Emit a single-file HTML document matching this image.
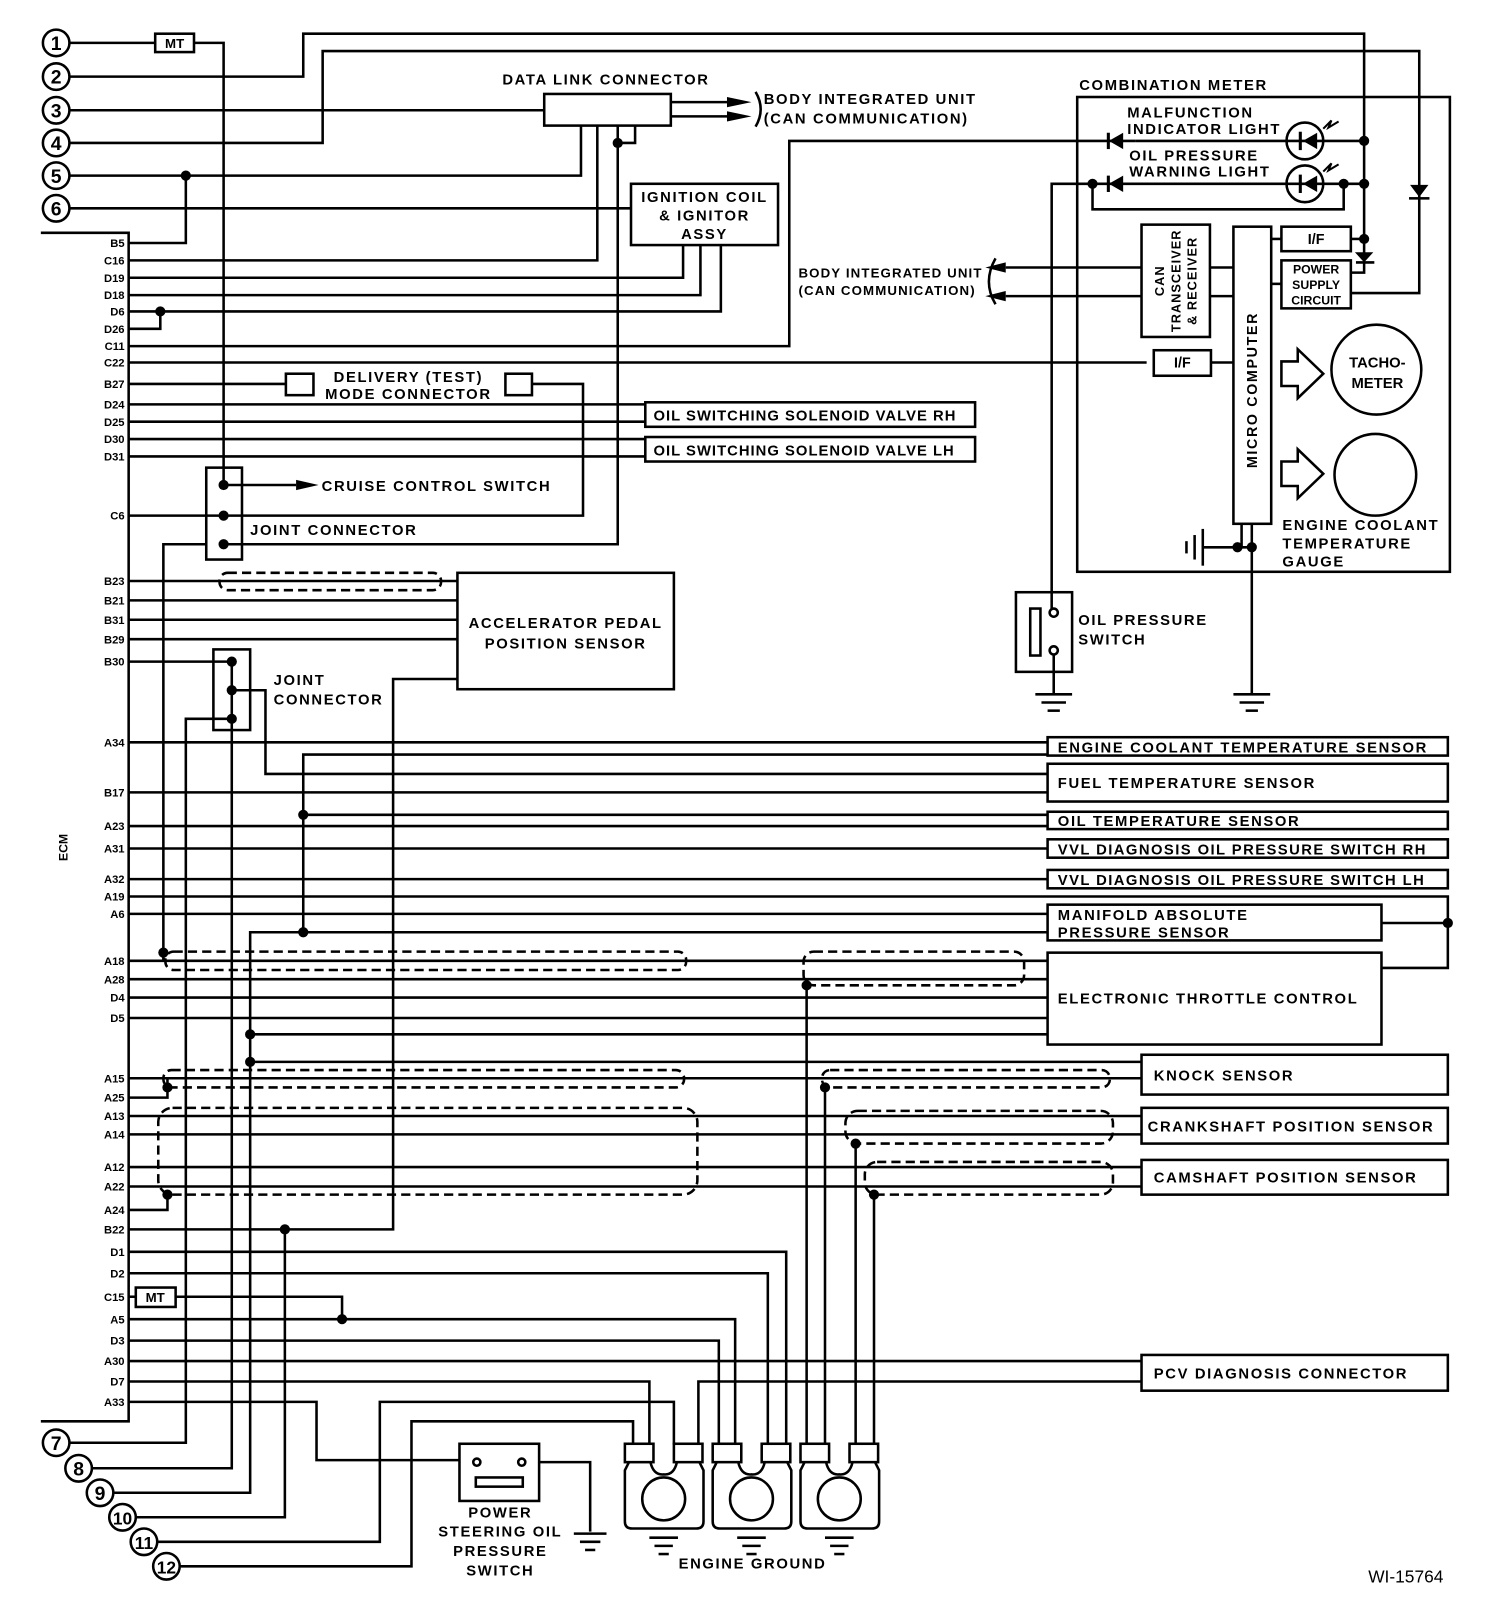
<!DOCTYPE html>
<html><head><meta charset="utf-8"><style>
html,body{margin:0;padding:0;background:#fff;}
svg{display:block;}
text{font-family:"Liberation Sans",Arial,sans-serif;font-weight:bold;fill:#000;}
.p{font-size:11px;}
.l{font-size:15px;letter-spacing:1.6px;}
</style></head><body>
<svg width="1504" height="1600" viewBox="0 0 1473 1567" xmlns="http://www.w3.org/2000/svg">
<g fill="none" stroke="#000" stroke-width="2.5">
<polyline points="40,228 126,228 126,1392 40,1392"/>
<circle cx="55" cy="42" r="13"/><circle cx="55" cy="75" r="13"/><circle cx="55" cy="108" r="13"/><circle cx="55" cy="140" r="13"/><circle cx="55" cy="172" r="13"/><circle cx="55" cy="204" r="13"/>
<circle cx="55" cy="1413" r="13"/><circle cx="77" cy="1438" r="13"/><circle cx="98" cy="1462" r="13"/><circle cx="120" cy="1486" r="13"/><circle cx="141" cy="1510" r="13"/><circle cx="163" cy="1534" r="13"/>
<line x1="68" y1="42" x2="152" y2="42"/><rect x="152" y="33" width="38" height="18"/>
<polyline points="190,42 219,42 219,475"/>
<polyline points="68,75 297,75 297,33 1336,33 1336,250"/>
<line x1="68" y1="108" x2="533" y2="108"/>
<polyline points="68,140 316,140 316,50 1390,50 1390,287 1324,287"/>
<polyline points="68,172 569,172 569,123"/>
<polyline points="182,172 182,238 126,238"/>
<line x1="68" y1="204" x2="618" y2="204"/>
<rect x="533" y="92" width="124" height="31"/>
<line x1="657" y1="100" x2="715" y2="100"/><line x1="657" y1="114" x2="715" y2="114"/>
<path d="M740,90 Q750,107 740,124"/>
<polyline points="605,123 605,533 219,533"/>
<polyline points="605,140 622,140 622,123"/>
<rect x="618" y="180" width="144" height="60"/>
<polyline points="126,255 585,255 585,123"/>
<polyline points="126,272 669,272 669,240"/>
<polyline points="126,289 686,289 686,240"/>
<polyline points="126,305 706,305 706,240"/>
<polyline points="157,305 157,322 126,322"/>
<polyline points="126,339 773,339 773,138 1112,138"/>
<line x1="126" y1="355" x2="1123" y2="355"/>
<line x1="126" y1="376" x2="280" y2="376"/>
<rect x="280" y="366" width="27" height="21"/><rect x="495" y="366" width="26" height="21"/>
<polyline points="521,376 571,376 571,505 126,505"/>
<line x1="126" y1="396" x2="632" y2="396"/><line x1="126" y1="413" x2="632" y2="413"/>
<line x1="126" y1="430" x2="632" y2="430"/><line x1="126" y1="447" x2="632" y2="447"/>
<rect x="632" y="394" width="323" height="24"/><rect x="632" y="428" width="323" height="24"/>
<rect x="202" y="458" width="35" height="90"/>
<line x1="219" y1="475" x2="290" y2="475"/>
<rect x="448" y="561" width="212" height="114"/>
<line x1="126" y1="569" x2="448" y2="569"/><line x1="126" y1="588" x2="448" y2="588"/>
<line x1="126" y1="607" x2="448" y2="607"/><line x1="126" y1="626" x2="448" y2="626"/>
<line x1="126" y1="648" x2="227" y2="648"/>
<rect x="215" y="561" width="217" height="17" rx="8" stroke-dasharray="9,5"/>
<polyline points="160,941 160,533 202,533"/>
<rect x="209" y="636" width="36" height="79"/>
<polyline points="227,648 227,1438 90,1438"/>
<polyline points="227,676 260,676 260,758 1026,758"/>
<polyline points="227,704 182,704 182,1413 68,1413"/>
<rect x="1026" y="722" width="392" height="18"/>
<rect x="1026" y="748" width="392" height="37"/>
<rect x="1026" y="795" width="392" height="17"/>
<rect x="1026" y="822" width="392" height="18"/>
<rect x="1026" y="852" width="392" height="18"/>
<rect x="1026" y="886" width="327" height="35"/>
<rect x="1026" y="933" width="327" height="90"/>
<rect x="1118" y="1033" width="300" height="39"/>
<rect x="1118" y="1085" width="300" height="35"/>
<rect x="1118" y="1136" width="300" height="34"/>
<rect x="1118" y="1327" width="300" height="35"/>
<line x1="126" y1="727" x2="1026" y2="727"/>
<polyline points="1026,739 297,739 297,913"/>
<line x1="126" y1="776" x2="1026" y2="776"/>
<line x1="126" y1="809" x2="1026" y2="809"/>
<line x1="297" y1="798" x2="1026" y2="798"/>
<line x1="126" y1="831" x2="1026" y2="831"/>
<line x1="126" y1="861" x2="1026" y2="861"/>
<polyline points="126,878 1418,878 1418,948 1353,948"/>
<line x1="1353" y1="904" x2="1418" y2="904"/>
<line x1="126" y1="895" x2="1026" y2="895"/>
<polyline points="1026,913 245,913 245,1462 111,1462"/>
<line x1="126" y1="941" x2="1026" y2="941"/>
<line x1="126" y1="959" x2="1026" y2="959"/>
<line x1="126" y1="977" x2="1026" y2="977"/>
<line x1="126" y1="997" x2="1026" y2="997"/>
<line x1="245" y1="1013" x2="1026" y2="1013"/>
<line x1="245" y1="1040" x2="1118" y2="1040"/>
<rect x="162" y="932" width="510" height="18" rx="8" stroke-dasharray="9,5"/>
<rect x="787" y="932" width="216" height="33" rx="10" stroke-dasharray="9,5"/>
<line x1="126" y1="1056" x2="1118" y2="1056"/>
<polyline points="126,1075 164,1075 164,1056"/>
<rect x="160" y="1048" width="510" height="17" rx="8" stroke-dasharray="9,5"/>
<rect x="805" y="1048" width="282" height="17" rx="8" stroke-dasharray="9,5"/>
<line x1="126" y1="1093" x2="1118" y2="1093"/>
<line x1="126" y1="1111" x2="1118" y2="1111"/>
<line x1="126" y1="1143" x2="1118" y2="1143"/>
<line x1="126" y1="1162" x2="1118" y2="1162"/>
<rect x="155" y="1085" width="528" height="85" rx="14" stroke-dasharray="9,5"/>
<rect x="828" y="1088" width="262" height="32" rx="12" stroke-dasharray="9,5"/>
<rect x="847" y="1138" width="243" height="32" rx="12" stroke-dasharray="9,5"/>
<polyline points="126,1185 164,1185 164,1170"/>
<polyline points="126,1204 385,1204 385,665 448,665"/>
<polyline points="279,1204 279,1486 133,1486"/>
<polyline points="126,1226 770,1226 770,1415"/>
<polyline points="126,1247 752,1247 752,1415"/>
<line x1="126" y1="1270" x2="133" y2="1270"/><rect x="133" y="1261" width="39" height="19"/>
<polyline points="172,1270 335,1270 335,1292"/>
<polyline points="126,1292 720,1292 720,1415"/>
<polyline points="126,1313 704,1313 704,1415"/>
<line x1="126" y1="1333" x2="1118" y2="1333"/>
<polyline points="126,1353 636,1353 636,1415"/>
<polyline points="684,1415 684,1353 1118,1353"/>
<polyline points="126,1373 310,1373 310,1430 450,1430"/>
<polyline points="154,1510 372,1510 372,1373 660,1373 660,1415"/>
<polyline points="176,1534 403,1534 403,1392 620,1392 620,1415"/>
<line x1="790" y1="965" x2="790" y2="1415"/>
<line x1="808" y1="1065" x2="808" y2="1415"/>
<line x1="838" y1="1120" x2="838" y2="1415"/>
<line x1="856" y1="1170" x2="856" y2="1415"/>
<rect x="450" y="1414" width="78" height="56"/>
<circle cx="467" cy="1432" r="3.5"/><circle cx="511" cy="1432" r="3.5"/>
<rect x="466" y="1447" width="46" height="9"/>
<polyline points="528,1432 578,1432 578,1500"/>
<line x1="562" y1="1502" x2="594" y2="1502"/><line x1="568" y1="1510" x2="588" y2="1510"/><line x1="573" y1="1518" x2="583" y2="1518"/>
<g id="eg">
<rect x="612" y="1414" width="28" height="18"/><rect x="660" y="1414" width="28" height="18"/>
<path d="M616,1432 L612,1440 L612,1490 Q612,1497 619,1497 L682,1497 Q689,1497 689,1490 L689,1440 L685,1432 M637,1432 Q640,1445 650,1444 Q660,1445 663,1432"/>
<circle cx="650" cy="1468" r="21"/>
<line x1="636" y1="1506" x2="664" y2="1506"/><line x1="641" y1="1514" x2="659" y2="1514"/><line x1="645" y1="1522" x2="655" y2="1522"/>
</g>
<use href="#eg" x="86"/><use href="#eg" x="172"/>
<rect x="1055" y="95" width="365" height="465"/>
<line x1="1112" y1="138" x2="1336" y2="138"/>
<polyline points="1030,597 1030,180 1336,180"/>
<polyline points="1070,180 1070,205 1316,205 1316,180"/>
<circle cx="1278" cy="138" r="18"/><circle cx="1278" cy="180" r="18"/>
<path d="M1296,126 l8,-8 l-3,7 l10,-6 M1296,168 l8,-8 l-3,7 l10,-6" stroke-width="2"/>
<rect x="1118" y="220" width="67" height="110"/>
<rect x="1208" y="222" width="37" height="291"/>
<rect x="1255" y="222" width="68" height="24"/>
<rect x="1255" y="255" width="68" height="47"/>
<line x1="1245" y1="234" x2="1255" y2="234"/><line x1="1245" y1="278" x2="1255" y2="278"/>
<line x1="1323" y1="234" x2="1336" y2="234"/>
<polyline points="1323,267 1336,267 1336,257"/>
<line x1="1328" y1="257" x2="1346" y2="257"/>
<line x1="985" y1="262" x2="1118" y2="262"/><line x1="985" y1="290" x2="1118" y2="290"/>
<path d="M975,253 Q962,276 975,298"/>
<line x1="1185" y1="262" x2="1208" y2="262"/><line x1="1185" y1="290" x2="1208" y2="290"/>
<rect x="1130" y="343" width="56" height="25"/>
<line x1="1186" y1="355" x2="1208" y2="355"/>
<path d="M1255,354 h16 v-12 l25,24 l-25,24 v-12 h-16 z"/>
<path d="M1255,452 h16 v-12 l25,24 l-25,24 v-12 h-16 z"/>
<circle cx="1348" cy="362" r="44"/>
<circle cx="1347" cy="465" r="40"/>
<line x1="1216" y1="513" x2="1216" y2="536"/>
<polyline points="1178,536 1226,536"/>
<polyline points="1226,513 1226,680"/>
<line x1="1178" y1="518" x2="1178" y2="554"/><line x1="1170" y1="524" x2="1170" y2="548"/><line x1="1162" y1="530" x2="1162" y2="542"/>
<line x1="1208" y1="680" x2="1244" y2="680"/><line x1="1214" y1="688" x2="1238" y2="688"/><line x1="1220" y1="696" x2="1232" y2="696"/>
<rect x="995" y="580" width="55" height="78"/>
<rect x="1009" y="596" width="10" height="46"/>
<circle cx="1032" cy="600" r="4"/><circle cx="1032" cy="637" r="4"/>
<line x1="1032" y1="641" x2="1032" y2="680"/>
<line x1="1014" y1="680" x2="1050" y2="680"/><line x1="1020" y1="688" x2="1044" y2="688"/><line x1="1026" y1="696" x2="1038" y2="696"/>
</g>
<g fill="#000" stroke="none">
<circle cx="182" cy="172" r="5"/><circle cx="605" cy="140" r="5"/><circle cx="157" cy="305" r="5"/>
<circle cx="219" cy="475" r="5"/><circle cx="219" cy="505" r="5"/><circle cx="219" cy="533" r="5"/>
<circle cx="227" cy="648" r="5"/><circle cx="227" cy="676" r="5"/><circle cx="227" cy="704" r="5"/>
<circle cx="297" cy="798" r="5"/><circle cx="297" cy="913" r="5"/><circle cx="160" cy="933" r="5"/>
<circle cx="1418" cy="904" r="5"/><circle cx="790" cy="965" r="5"/>
<circle cx="245" cy="1013" r="5"/><circle cx="245" cy="1040" r="5"/>
<circle cx="164" cy="1065" r="5"/><circle cx="808" cy="1065" r="5"/>
<circle cx="838" cy="1120" r="5"/><circle cx="164" cy="1170" r="5"/><circle cx="856" cy="1170" r="5"/>
<circle cx="279" cy="1204" r="5"/><circle cx="335" cy="1292" r="5"/>
<circle cx="1336" cy="138" r="5"/><circle cx="1336" cy="180" r="5"/><circle cx="1316" cy="180" r="5"/><circle cx="1070" cy="180" r="5"/>
<circle cx="1336" cy="234" r="5"/><circle cx="1212" cy="536" r="5"/><circle cx="1226" cy="536" r="5"/>
<path d="M712,95 l24,5 l-24,5 z M712,109 l24,5 l-24,5 z"/>
<path d="M290,470 l22,5 l-22,5 z"/>
<path d="M985,257 l-20,5 l20,5 z M985,285 l-20,5 l20,5 z"/>
<path d="M1100,130 l-14,8 l14,8 z M1100,172 l-14,8 l14,8 z M1290,130 l-14,8 l14,8 z M1290,172 l-14,8 l14,8 z"/>
<rect x="1084" y="130" width="3" height="16"/><rect x="1084" y="172" width="3" height="16"/>
<rect x="1272" y="129" width="3" height="18"/><rect x="1272" y="171" width="3" height="18"/>
<path d="M1381,181 l18,0 l-9,12 z"/><rect x="1380" y="193" width="20" height="2.5"/>
<path d="M1327,247 l18,0 l-9,10 z"/>
</g>
<g class="l" text-anchor="middle" style="letter-spacing:0">
<text x="55" y="49" style="font-size:19px">1</text><text x="55" y="82" style="font-size:19px">2</text><text x="55" y="115" style="font-size:19px">3</text><text x="55" y="147" style="font-size:19px">4</text><text x="55" y="179" style="font-size:19px">5</text><text x="55" y="211" style="font-size:19px">6</text>
<text x="55" y="1420" style="font-size:19px">7</text><text x="77" y="1445" style="font-size:19px">8</text><text x="98" y="1469" style="font-size:19px">9</text><text x="120" y="1493" style="font-size:17px">10</text><text x="141" y="1517" style="font-size:17px">11</text><text x="163" y="1541" style="font-size:17px">12</text>
</g>
<g class="p" text-anchor="end">
<text x="122" y="242">B5</text><text x="122" y="259">C16</text><text x="122" y="276">D19</text><text x="122" y="293">D18</text><text x="122" y="309">D6</text><text x="122" y="326">D26</text><text x="122" y="343">C11</text><text x="122" y="359">C22</text><text x="122" y="380">B27</text><text x="122" y="400">D24</text><text x="122" y="417">D25</text><text x="122" y="434">D30</text><text x="122" y="451">D31</text><text x="122" y="509">C6</text><text x="122" y="573">B23</text><text x="122" y="592">B21</text><text x="122" y="611">B31</text><text x="122" y="630">B29</text><text x="122" y="652">B30</text><text x="122" y="731">A34</text><text x="122" y="780">B17</text><text x="122" y="813">A23</text><text x="122" y="835">A31</text><text x="122" y="865">A32</text><text x="122" y="882">A19</text><text x="122" y="899">A6</text><text x="122" y="945">A18</text><text x="122" y="963">A28</text><text x="122" y="981">D4</text><text x="122" y="1001">D5</text><text x="122" y="1060">A15</text><text x="122" y="1079">A25</text><text x="122" y="1097">A13</text><text x="122" y="1115">A14</text><text x="122" y="1147">A12</text><text x="122" y="1166">A22</text><text x="122" y="1189">A24</text><text x="122" y="1208">B22</text><text x="122" y="1230">D1</text><text x="122" y="1251">D2</text><text x="122" y="1274">C15</text><text x="122" y="1296">A5</text><text x="122" y="1317">D3</text><text x="122" y="1337">A30</text><text x="122" y="1357">D7</text><text x="122" y="1377">A33</text>
</g>
<text class="p" transform="translate(66,830) rotate(-90)" text-anchor="middle" style="font-size:12px">ECM</text>
<g class="p" text-anchor="middle" style="font-size:13px">
<text x="171" y="47">MT</text><text x="152" y="1275">MT</text>
<text x="1158" y="360" style="font-size:14px">I/F</text><text x="1289" y="239" style="font-size:14px">I/F</text>
</g>
<g class="l" style="font-size:14.5px">
<text x="492" y="83">DATA LINK CONNECTOR</text>
<text x="748" y="102">BODY INTEGRATED UNIT</text><text x="748" y="121">(CAN COMMUNICATION)</text>
<text x="690" y="198" text-anchor="middle">IGNITION COIL</text><text x="690" y="216" text-anchor="middle">&amp; IGNITOR</text><text x="690" y="234" text-anchor="middle">ASSY</text>
<text x="1057" y="88">COMBINATION METER</text>
<text x="1104" y="115">MALFUNCTION</text><text x="1104" y="131">INDICATOR LIGHT</text>
<text x="1106" y="157">OIL PRESSURE</text><text x="1106" y="173">WARNING LIGHT</text>
<text x="400" y="374" text-anchor="middle">DELIVERY (TEST)</text><text x="400" y="391" text-anchor="middle">MODE CONNECTOR</text>
<text x="640" y="412" style="letter-spacing:1px">OIL SWITCHING SOLENOID VALVE RH</text>
<text x="640" y="446" style="letter-spacing:1px">OIL SWITCHING SOLENOID VALVE LH</text>
<text x="315" y="481">CRUISE CONTROL SWITCH</text>
<text x="245" y="524">JOINT CONNECTOR</text>
<text x="554" y="615" text-anchor="middle">ACCELERATOR PEDAL</text><text x="554" y="635" text-anchor="middle">POSITION SENSOR</text>
<text x="268" y="671">JOINT</text><text x="268" y="690">CONNECTOR</text>
<text x="1056" y="612">OIL PRESSURE</text><text x="1056" y="631">SWITCH</text>
<text x="1256" y="519">ENGINE COOLANT</text><text x="1256" y="537">TEMPERATURE</text><text x="1256" y="555">GAUGE</text>
<text x="1349" y="360" text-anchor="middle" style="letter-spacing:0">TACHO-</text><text x="1349" y="380" text-anchor="middle" style="letter-spacing:0">METER</text>
<text x="1036" y="737">ENGINE COOLANT TEMPERATURE SENSOR</text>
<text x="1036" y="772">FUEL TEMPERATURE SENSOR</text>
<text x="1036" y="809">OIL TEMPERATURE SENSOR</text>
<text x="1036" y="837" style="letter-spacing:1.4px">VVL DIAGNOSIS OIL PRESSURE SWITCH RH</text>
<text x="1036" y="867" style="letter-spacing:1.4px">VVL DIAGNOSIS OIL PRESSURE SWITCH LH</text>
<text x="1036" y="901">MANIFOLD ABSOLUTE</text><text x="1036" y="918">PRESSURE SENSOR</text>
<text x="1036" y="983">ELECTRONIC THROTTLE CONTROL</text>
<text x="1130" y="1058">KNOCK SENSOR</text>
<text x="1124" y="1108">CRANKSHAFT POSITION SENSOR</text>
<text x="1130" y="1158">CAMSHAFT POSITION SENSOR</text>
<text x="1130" y="1350">PCV DIAGNOSIS CONNECTOR</text>
<text x="490" y="1486" text-anchor="middle">POWER</text><text x="490" y="1505" text-anchor="middle">STEERING OIL</text><text x="490" y="1524" text-anchor="middle">PRESSURE</text><text x="490" y="1543" text-anchor="middle">SWITCH</text>
<text x="737" y="1536" text-anchor="middle">ENGINE GROUND</text>
</g>
<g class="l" style="font-size:13px;letter-spacing:1.1px">
<text x="782" y="272">BODY INTEGRATED UNIT</text><text x="782" y="289">(CAN COMMUNICATION)</text>
<text x="1289" y="268" text-anchor="middle" style="font-size:12px;letter-spacing:0">POWER</text><text x="1289" y="283" text-anchor="middle" style="font-size:12px;letter-spacing:0">SUPPLY</text><text x="1289" y="298" text-anchor="middle" style="font-size:12px;letter-spacing:0">CIRCUIT</text>
</g>
<text class="l" transform="translate(1231,382) rotate(-90)" text-anchor="middle" style="font-size:14px">MICRO COMPUTER</text>
<text class="l" transform="translate(1140,275) rotate(-90)" text-anchor="middle" style="font-size:12.5px;letter-spacing:1px">CAN</text>
<text class="l" transform="translate(1156,275) rotate(-90)" text-anchor="middle" style="font-size:12.5px;letter-spacing:1px">TRANSCEIVER</text>
<text class="l" transform="translate(1172,275) rotate(-90)" text-anchor="middle" style="font-size:12.5px;letter-spacing:1px">&amp; RECEIVER</text>
<text x="1340" y="1550" style="font-family:'Liberation Sans',sans-serif;font-size:17px;font-weight:normal">WI-15764</text>
</svg>
</body></html>
